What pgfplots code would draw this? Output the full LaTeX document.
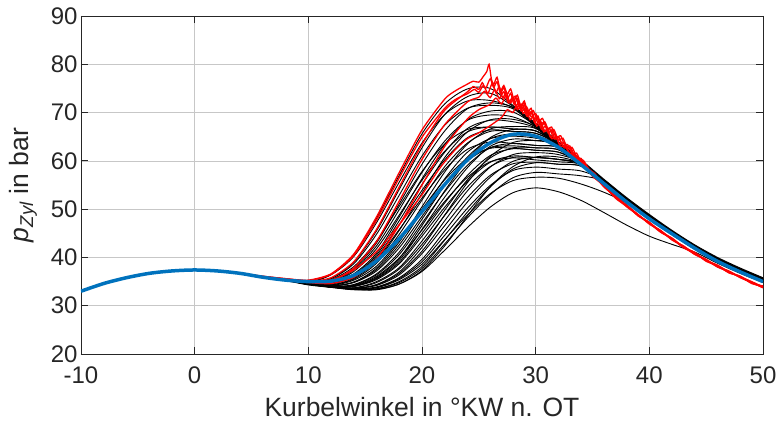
\documentclass[border=0pt]{standalone}
\usepackage{fontspec}
\setmainfont{Liberation Sans}
\usepackage{pgfplots}
\usepackage{pgfplotstable}
\pgfplotsset{compat=1.18}
\definecolor{mblue}{RGB}{0,114,189}
\definecolor{axgray}{RGB}{38,38,38}
\definecolor{mred}{RGB}{255,0,0}

\pgfplotstableread{
x c1 c2 c3 c4 c5 c6 c7 c8 c9 c10 c11 c12 c13 c14 c15 c16 c17 c18 c19 c20 c21 c22 c23 c24 c25 c26 c27 l1 l2
4 36.7 36.7 36.7 36.7 36.7 36.7 36.7 36.7 36.7 36.7 36.7 36.7 36.7 36.7 36.7 36.7 36.7 36.7 36.7 36.7 36.7 36.7 36.7 36.7 36.7 36.7 36.7 36.7 36.7
6 35.9 35.9 35.9 35.9 35.9 35.9 35.9 35.9 35.9 35.9 35.9 35.9 35.9 35.9 35.9 35.9 35.9 35.9 35.9 35.9 35.9 35.9 35.9 35.9 35.9 35.9 35.9 35.9 35.9
8 35.3 35.3 35.3 35.3 35.3 35.3 35.3 35.3 35.3 35.3 35.3 35.3 35.3 35.3 35.3 35.3 35.3 35.3 35.3 35.3 35.3 35.3 35.3 35.3 35.3 35.3 35.3 35.2 35.2
10 34.9 34.9 34.7 34.7 34.6 34.6 34.5 34.5 34.5 34.5 34.5 34.5 34.5 34.5 34.5 34.5 34.5 34.5 34.5 34.5 34.5 34.5 34.5 34.5 34.5 34.5 34.5 34.3 34.4
12 36.5 36.4 35.7 35.6 35.1 35.0 34.6 34.6 34.5 34.3 34.3 34.1 34.1 34.1 34.0 34.0 33.9 33.9 33.9 33.9 33.9 33.9 33.9 33.9 33.9 33.9 33.9 33.8 33.8
14 40.6 40.2 39.0 38.7 37.7 37.4 36.6 36.4 36.2 35.7 35.5 34.9 34.9 34.8 34.4 34.3 34.0 34.0 34.0 33.7 33.7 33.6 33.6 33.5 33.5 33.4 33.4 33.3 33.4
16 48.1 47.2 45.5 44.8 43.0 42.4 40.9 40.5 40.1 39.2 38.8 37.8 37.5 37.2 36.6 36.4 35.7 35.6 35.4 35.0 34.8 34.3 34.2 33.9 33.8 33.5 33.5 33.4 33.7
18 57.0 55.6 54.1 52.9 51.1 49.9 48.4 47.6 46.8 45.6 44.8 43.2 42.6 42.0 41.1 40.6 39.4 39.0 38.7 37.9 37.6 36.7 36.4 35.8 35.6 35.0 34.8 34.5 35.4
20 65.6 63.7 62.7 61.0 59.3 57.6 56.3 55.1 53.9 53.3 51.9 50.5 49.5 48.5 47.9 47.1 45.8 45.0 44.4 43.4 42.7 41.3 40.8 39.6 39.1 38.1 37.7 37.1 38.6
22 71.8 69.6 69.6 67.4 66.2 64.1 63.4 61.8 60.2 60.7 58.8 57.7 56.3 54.9 54.9 53.6 52.5 51.3 50.4 49.8 48.7 47.6 46.6 45.5 44.6 43.6 42.8 41.5 43.7
24 74.9 72.4 73.3 70.9 70.8 68.4 68.5 66.7 64.8 66.0 63.7 63.5 61.8 60.0 60.8 59.1 58.6 57.0 55.8 56.1 54.6 53.8 52.4 51.5 50.2 49.4 48.2 46.2 48.8
26 75.0 72.5 74.0 71.5 72.0 69.5 70.3 68.4 66.4 68.5 66.1 66.6 64.6 62.7 64.6 62.7 63.0 61.1 59.7 60.6 58.8 58.7 57.0 56.6 54.9 54.6 53.0 50.4 53.2
28 71.5 71.0 71.3 70.8 71.1 69.1 70.1 68.1 66.1 68.6 66.1 67.1 65.1 63.1 65.6 63.6 64.5 62.5 61.0 62.7 60.7 61.3 59.4 59.9 58.0 58.3 56.5 53.4 55.9
30 67.8 67.3 67.6 67.1 67.4 67.0 67.3 66.8 65.7 67.1 65.7 66.7 64.7 62.7 65.2 63.2 64.2 62.2 60.7 62.7 60.7 61.7 59.7 60.7 58.7 59.6 57.6 54.4 56.6
32 64.0 63.5 63.8 63.3 63.6 63.2 63.5 63.0 63.4 63.3 63.6 63.2 63.5 62.3 63.4 62.8 63.3 61.8 60.3 62.3 60.3 61.3 59.3 60.3 58.3 59.3 57.3 53.6 56.4
34 60.2 59.7 60.0 59.5 59.8 59.4 59.7 59.2 59.6 59.5 59.8 59.4 59.7 59.2 59.6 59.3 59.5 59.8 59.4 59.6 59.2 59.7 58.9 59.5 57.9 58.9 56.9 51.8 55.2
36 56.2 55.8 56.0 55.6 55.8 55.4 55.8 55.4 55.6 55.6 56.0 55.4 55.8 55.4 55.6 55.4 55.6 56.0 55.4 55.8 55.4 55.8 55.6 55.6 56.0 55.4 55.8 49.3 53.5
38 52.4 52.0 52.2 51.8 52.0 51.6 52.0 51.6 51.8 51.8 52.2 51.6 52.0 51.6 51.8 51.6 51.8 52.2 51.6 52.0 51.6 52.0 51.8 51.8 52.2 51.6 52.0 46.7 51.3
40 48.9 48.5 48.7 48.3 48.5 48.1 48.5 48.1 48.3 48.3 48.7 48.1 48.5 48.1 48.3 48.1 48.3 48.7 48.1 48.5 48.1 48.5 48.3 48.3 48.7 48.1 48.5 44.4 48.0
42 45.6 45.2 45.4 45.0 45.2 44.8 45.2 44.8 45.0 45.0 45.4 44.8 45.2 44.8 45.0 44.8 45.0 45.4 44.8 45.2 44.8 45.2 45.0 45.0 45.4 44.8 45.2 42.7 44.7
44 42.6 42.2 42.4 42.0 42.2 41.8 42.2 41.8 42.0 42.0 42.4 41.8 42.2 41.8 42.0 41.8 42.0 42.4 41.8 42.2 41.8 42.2 42.0 42.0 42.4 41.8 42.2 41.1 41.7
46 40.0 39.6 39.8 39.4 39.6 39.2 39.6 39.2 39.4 39.4 39.8 39.2 39.6 39.2 39.4 39.2 39.4 39.8 39.2 39.6 39.2 39.6 39.4 39.4 39.8 39.2 39.6 38.8 39.1
48 37.8 37.4 37.6 37.2 37.4 37.0 37.4 37.0 37.2 37.2 37.6 37.0 37.4 37.0 37.2 37.0 37.2 37.6 37.0 37.4 37.0 37.4 37.2 37.2 37.6 37.0 37.4 36.7 36.9
50 35.8 35.4 35.6 35.2 35.4 35.0 35.4 35.0 35.2 35.2 35.6 35.0 35.4 35.0 35.2 35.0 35.2 35.6 35.0 35.4 35.0 35.4 35.2 35.2 35.6 35.0 35.4 34.8 34.9
}\blacktab

\pgfplotstableread{
x n1 n2 n3 n4 n5 n6 n7 n8
4 36.7 36.7 36.7 36.7 36.7 36.7 36.7 36.7
6 35.9 35.9 35.9 35.9 35.9 35.9 35.9 35.9
8 35.3 35.3 35.3 35.3 35.3 35.3 35.3 35.3
10 34.7 34.5 34.5 34.5 34.5 34.6 34.5 34.5
12 35.4 34.2 33.9 33.9 34.0 34.9 33.9 34.5
14 38.1 35.3 34.1 33.6 34.2 37.1 33.4 36.0
16 43.4 38.2 35.9 34.4 36.1 41.8 33.3 39.6
18 50.6 43.6 39.8 37.0 39.9 48.8 34.5 45.8
20 57.8 50.0 46.6 42.1 45.7 56.0 37.3 52.3
22 63.5 56.1 53.8 48.8 51.6 62.0 42.4 58.2
24 66.5 60.5 60.2 55.5 56.6 66.0 48.6 62.4
26 67.0 62.6 64.8 60.9 59.8 67.0 54.6 63.9
28 66.6 62.6 66.5 63.8 60.6 66.6 58.8 63.6
30 66.2 62.2 66.2 64.2 60.2 66.2 60.8 63.2
32 63.3 61.8 63.4 63.6 59.8 63.4 60.8 62.8
34 59.5 59.4 59.6 59.8 59.2 59.6 59.4 59.7
36 55.6 55.6 55.8 56.0 55.4 55.8 55.6 55.8
38 51.8 51.8 52.0 52.2 51.6 52.0 51.8 52.0
40 48.3 48.3 48.5 48.7 48.1 48.5 48.3 48.5
42 45.0 45.0 45.2 45.4 44.8 45.2 45.0 45.2
44 42.0 42.0 42.2 42.4 41.8 42.2 42.0 42.2
46 39.4 39.4 39.6 39.8 39.2 39.6 39.4 39.6
48 37.2 37.2 37.4 37.6 37.0 37.4 37.2 37.4
50 35.2 35.2 35.4 35.6 35.0 35.4 35.2 35.4
}\extratab

\begin{document}
\begin{tikzpicture}
\path[use as bounding box] (-81pt,-68pt) rectangle (697pt,354pt);
\begin{axis}[
  at={(0pt,0pt)}, anchor=south west,
  scale only axis, width=682pt, height=338pt,
  xmin=-10, xmax=50, ymin=20, ymax=90,
  xtick={-10,0,10,20,30,40,50},
  ytick={20,30,40,50,60,70,80,90},
  grid=major,
  major grid style={black!22, line width=0.7pt},
  tick align=inside,
  major tick length=7pt,
  tick style={axgray, line width=0.8pt},
  axis line style={axgray, line width=0.8pt},
  /pgf/number format/assume math mode=true,
  ticklabel style={font=\fontsize{24}{27}\selectfont, text=axgray},
  xticklabel style={yshift=-9pt},
  label style={font=\fontsize{26.5}{30}\selectfont, text=axgray},
  xlabel style={at={(axis description cs:0.5,-0.157)}, anchor=center},
  ylabel style={at={(axis description cs:-0.085,0.5)}, anchor=center},
  xlabel={Kurbelwinkel in °KW n. OT},
  ylabel={\textit{p}\textsubscript{\textit{Zyl}} in bar},
]
\pgfplotsinvokeforeach{1,...,27}{
  \addplot[black, line width=0.9pt, smooth, tension=0.5] table[x=x, y=c#1] {\blacktab};
}
\pgfplotsinvokeforeach{1,...,8}{
  \addplot[black, line width=0.9pt, smooth, tension=0.5] table[x=x, y=n#1] {\extratab};
}
\addplot[black, line width=0.9pt, smooth, tension=0.5] table[x=x, y=l1] {\blacktab};
\addplot[black, line width=0.9pt, smooth, tension=0.5] table[x=x, y=l2] {\blacktab};

% red (knocking) cycles
\addplot[mred, line width=1.3pt, smooth, tension=0.4] coordinates {
(4,36.7) (6,36.1) (8,35.6) (10,35.3) (12,36.6) (14,40.7) (16,48.4) (18,57.6) (20,66.4) (22,72.8) (23,74.6) (24,75.9) (24.5,76.5) (25,76.3) (25.4,77.5) (25.7,78.5) (25.9,80.0) (26.1,77.0) (26.3,75.8) (26.6,77.3) (26.9,74.5) (27.2,75.6) (27.5,73.8) (27.8,74.9) (28.1,72.6) (28.4,73.6) (28.7,71.2) (29.0,72.4) (29.3,70.0) (29.6,70.9) (29.9,68.6) (30.2,69.3) (30.5,67.2) (30.8,67.9) (31.1,65.8) (31.4,66.4) (31.7,64.5) (32.0,65.0) (32.4,63.0) (32.8,63.4) (33.2,61.5) (33.6,61.6) (34,59.7) (34.5,58.8) (35,57.2) (36,54.8) (37,52.5) (38,50.8) (39,48.7) (40,47.2) (41,45.3) (42,43.9) (43,42.1) (44,41.0) (45,39.4) (46,38.4) (47,37.0) (48,36.1) (49,34.9) (50,34.0)
};
\addplot[mred, line width=1.3pt, smooth, tension=0.4] coordinates {
(4,36.7) (6,36.1) (8,35.6) (10,35.2) (12,36.5) (14,40.4) (16,47.7) (18,56.5) (20,64.9) (22,70.9) (23,72.8) (24,73.9) (24.6,74.8) (25,74.2) (25.4,75.6) (25.8,74.0) (26.2,76.2) (26.5,74.1) (26.8,75.4) (27.1,73.0) (27.4,74.3) (27.7,72.1) (28.0,73.0) (28.3,70.8) (28.6,71.9) (28.9,69.8) (29.2,70.6) (29.5,68.5) (29.8,69.2) (30.1,67.2) (30.4,67.9) (30.7,66.0) (31.0,66.5) (31.4,64.6) (31.8,64.9) (32.2,62.9) (32.6,63.1) (33.0,61.2) (33.5,60.9) (34,59.4) (35,57.0) (36,55.0) (37,52.3) (38,50.6) (39,48.9) (40,46.9) (41,45.6) (42,43.6) (43,42.4) (44,40.7) (45,39.6) (46,38.1) (47,37.2) (48,35.9) (49,35.0) (50,33.8)
};
\addplot[mred, line width=1.3pt, smooth, tension=0.4] coordinates {
(4,36.7) (6,36.0) (8,35.5) (10,35.0) (12,35.8) (14,39.1) (16,45.8) (18,54.6) (20,63.4) (22,70.5) (24,74.3) (24.5,75.4) (25,74.8) (25.3,76.2) (25.6,75.0) (26,77.0) (26.3,75.2) (26.6,76.4) (26.9,73.9) (27.2,75.2) (27.5,72.8) (27.8,74.0) (28.1,71.7) (28.4,72.9) (28.7,70.4) (29.0,71.6) (29.3,69.2) (29.6,70.2) (29.9,67.9) (30.2,68.8) (30.5,66.5) (30.9,67.2) (31.3,64.9) (31.7,65.6) (32.1,63.4) (32.5,63.8) (33,61.6) (33.5,61.0) (34,59.2) (35,57.4) (36,54.6) (37,52.7) (38,50.5) (39,48.8) (40,47.1) (41,45.2) (42,43.9) (43,42.0) (44,40.9) (45,39.3) (46,38.3) (47,36.9) (48,36.0) (49,34.7) (50,33.9)
};
\addplot[mred, line width=1.3pt, smooth, tension=0.4] coordinates {
(4,36.7) (6,36.0) (8,35.5) (10,34.9) (12,35.1) (14,37.8) (16,43.3) (18,51.7) (20,60.3) (22,67.5) (24,72.2) (25,73.2) (25.5,74.4) (26,73.1) (26.4,74.8) (26.8,72.9) (27.2,74.3) (27.6,72.0) (28,73.2) (28.4,70.6) (28.8,71.8) (29.2,69.3) (29.6,70.1) (30.0,67.6) (30.4,68.4) (30.8,66.1) (31.2,66.8) (31.6,64.6) (32,65.0) (32.5,62.7) (33,62.8) (33.5,60.4) (34,60.0) (35,56.8) (36,54.9) (37,52.4) (38,50.9) (39,48.6) (40,47.3) (41,45.3) (42,44.0) (43,42.2) (44,41.0) (45,39.2) (46,38.3) (47,36.8) (48,36.1) (49,34.6) (50,34.1)
};
\addplot[mred, line width=1.3pt, smooth, tension=0.4] coordinates {
(4,36.7) (6,36.0) (8,35.4) (10,34.8) (12,34.6) (14,35.9) (16,39.7) (18,46.7) (20,55.0) (22,63.0) (24,68.7) (25,70.6) (26,71.7) (26.5,73.0) (27,71.8) (27.4,73.6) (27.8,72.0) (28.2,73.4) (28.6,70.9) (29,72.0) (29.4,69.5) (29.8,70.4) (30.2,67.9) (30.6,68.8) (31,66.4) (31.4,67.0) (31.8,64.8) (32.2,65.2) (32.6,62.9) (33,63.1) (33.5,60.8) (34,60.5) (34.5,58.6) (35,57.6) (36,54.7) (37,52.6) (38,50.7) (39,48.8) (40,47.0) (41,45.4) (42,43.7) (43,42.3) (44,40.6) (45,39.5) (46,38.0) (47,37.1) (48,35.8) (49,34.8) (50,33.7)
};
\addplot[mred, line width=1.3pt, smooth, tension=0.4] coordinates {
(4,36.7) (6,36.0) (8,35.4) (10,34.9) (12,35.3) (14,37.4) (16,41.2) (18,46.8) (20,53.0) (21.3,57.6) (22,59.8) (23,62.5) (24,64.6) (25,65.8) (26,67.3) (27,69.0) (27.5,70.6) (28,70.0) (28.4,71.8) (28.8,70.3) (29.2,71.2) (29.6,69.1) (30,69.8) (30.4,67.6) (30.8,68.1) (31.2,66.0) (31.6,66.5) (32,64.3) (32.4,64.7) (32.8,62.6) (33.2,62.8) (33.7,60.5) (34.2,60.1) (34.7,58.2) (35.2,57.4) (36,54.8) (37,52.9) (38,50.8) (39,48.9) (40,47.1) (41,45.5) (42,43.8) (43,42.1) (44,40.7) (45,39.4) (46,38.1) (47,37.0) (48,35.9) (49,34.8) (50,33.8)
};

% mean cycle
\addplot[mblue, line width=3.5pt, smooth, tension=0.5] coordinates {
(-10,33.0) (-8,34.6) (-6,35.8) (-4,36.7) (-2,37.2) (0,37.4) (2,37.2) (4,36.7) (6,35.9) (8,35.3) (10,35.0) (12,35.1) (14,36.3) (16,39.3) (18,43.9) (20,49.5) (22,55.1) (24,60.2) (26,63.7) (28,65.5) (30,65.1) (32,62.8) (34,59.2) (36,55.3) (38,51.5) (40,48.0) (42,44.9) (44,41.9) (46,39.2) (48,37.0) (50,35.0)
};
\end{axis}
\end{tikzpicture}
\end{document}
